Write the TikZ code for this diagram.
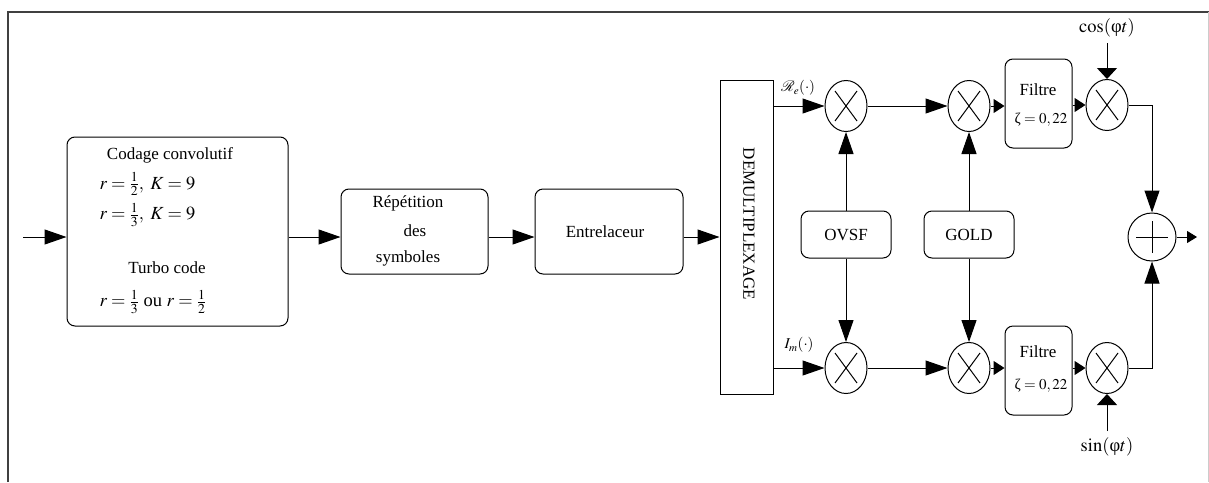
\documentclass[tikz,border=0pt]{standalone}
\usepackage{mathptmx}
\usepackage[no-math]{fontspec}
\setmainfont{Liberation Serif}
\usetikzlibrary{arrows.meta,shapes.geometric}
\begin{document}
\begin{tikzpicture}[x=1pt,y=-1pt, line width=1pt,
  box/.style={draw, rounded corners=8pt, inner sep=0pt},
  mult/.style={draw, ellipse, minimum width=42pt, minimum height=51pt, inner sep=0pt},
  sumnode/.style={draw, circle, minimum size=48pt, inner sep=0pt},
  arr/.style={-{Triangle[length=22pt,width=15pt]}},
  sarr/.style={-{Triangle[length=11pt,width=14pt]}},
  varr/.style={-{Triangle[length=11pt,width=20pt]}},
  oarr/.style={-{Triangle[length=10pt,width=12pt]}},
  txt/.style={font=\fontsize{17}{20}\selectfont, inner sep=0pt},
  mtxt/.style={font=\fontsize{18.5}{22}\selectfont, inner sep=0pt},
  stxt/.style={font=\fontsize{15}{18}\selectfont, inner sep=0pt}]
\useasboundingbox (0,0) rectangle (1209,482);
% frame
\draw[line width=1.2pt, black!75] (8,482) -- (8,12) -- (1209,12);
\draw[black!20] (1208,12) -- (1208,482);

% boxes
\node[box, minimum width=221pt, minimum height=189pt] (cod) at (177.5,231.5) {};
\node[box, minimum width=147pt, minimum height=85pt] (rep) at (414.5,231.5) {};
\node[box, minimum width=148pt, minimum height=85pt] (ent) at (609,231.5) {};
\node[draw, minimum width=53pt, minimum height=314pt, inner sep=0pt] (dem) at (746.5,237) {};
\node[box, minimum width=90pt, minimum height=47pt] (ovsf) at (846,234.5) {};
\node[box, minimum width=90pt, minimum height=47pt] (gold) at (969,234.5) {};
\node[box, minimum width=67pt, minimum height=89pt] (f1) at (1038.5,103.5) {};
\node[box, minimum width=67pt, minimum height=89pt] (f2) at (1038.5,370.5) {};

% multipliers
\node[mult] (m1) at (846,106) {};
\node[mult] (m2) at (969,106) {};
\node[mult] (m3) at (1107,105) {};
\node[mult] (m4) at (846,368) {};
\node[mult] (m5) at (969,368) {};
\node[mult] (m6) at (1107,368) {};
\foreach \m in {m1,m2,m3,m4,m5,m6}{
  \draw ([shift={(-11,-15)}]\m.center) -- ([shift={(11,15)}]\m.center);
  \draw ([shift={(-11,15)}]\m.center) -- ([shift={(11,-15)}]\m.center);
}
\node[sumnode] (sum) at (1152,237) {};
\draw ([shift={(-16,0)}]sum.center) -- ([shift={(16,0)}]sum.center);
\draw ([shift={(0,-16)}]sum.center) -- ([shift={(0,16)}]sum.center);

% texts
\node[txt] (t1) at (170,155) {Codage convolutif};
\node[mtxt, anchor=west] (t2) at (99,184) {$r=\frac{1}{2},\;K=9$};
\node[mtxt, anchor=west] (t3) at (99,215) {$r=\frac{1}{3},\;K=9$};
\node[txt] (t4) at (167,268) {Turbo code};
\node[mtxt, anchor=west] (t5) at (99,302) {$r=\frac{1}{3}$ ou $r=\frac{1}{2}$};
\node[txt] (t6) at (408,203) {Répétition};
\node[txt] (t7) at (415,231) {des};
\node[txt] (t8) at (408,258) {symboles};
\node[txt] (t9) at (605,232) {Entrelaceur};
\node[txt, rotate=-90] (t10) at (749,224) {DEMULTIPLEXAGE};
\node[txt] (t11) at (846,235) {OVSF};
\node[txt] (t12) at (969,235) {GOLD};
\node[txt] (t13) at (1038,90) {Filtre};
\node[stxt] (t14) at (1041,120) {ζ${}=0,22$};
\node[txt] (t15) at (1038,352) {Filtre};
\node[stxt] (t16) at (1041,386) {ζ${}=0,22$};
\node[stxt] (re) at (798,88) {$\mathcal{R}_e(\cdot)$};
\node[stxt] (im) at (799,345) {$I_m(\cdot)$};
\node[mtxt] (cos) at (1107,28) {$\cos(\mbox{φ}t)$};
\node[mtxt] (sin) at (1107,447) {$\sin(\mbox{φ}t)$};

\coordinate (in) at (23,237);
\coordinate (out) at (1197,237);
\coordinate (cosa) at (1107,43);
\coordinate (sina) at (1107,431);

% connectors
\draw[arr] (in) -- (in -| cod.west);
\draw[arr] (cod.east |- dem) -- (rep.west |- dem);
\draw[arr] (rep.east |- dem) -- (ent.west |- dem);
\draw[arr] (ent.east |- dem) -- (dem.west);
\draw[arr] (dem.east |- m1) -- (m1);
\draw[arr] (dem.east |- m4) -- (m4);
\draw[arr] (m1) -- (m2);
\draw[arr] (m4) -- (m5);
\draw[sarr] (m2.east) -- (f1.west |- m2);
\draw[sarr] (m5.east) -- (f2.west |- m5);
\draw[sarr] (f1.east |- m3) -- (m3.west);
\draw[sarr] (f2.east |- m6) -- (m6.west);
\draw[varr] (cosa) -- (m3.north);
\draw[varr] (sina) -- (m6.south);
\draw[arr] (ovsf) -- (m1);
\draw[arr] (ovsf) -- (m4);
\draw[arr] (gold) -- (m2);
\draw[arr] (gold) -- (m5);
\draw[arr] (m3.east) -| (sum.north);
\draw[arr] (m6.east) -| (sum.south);
\draw[oarr] (sum.east) -- (out);
\end{tikzpicture}
\end{document}
